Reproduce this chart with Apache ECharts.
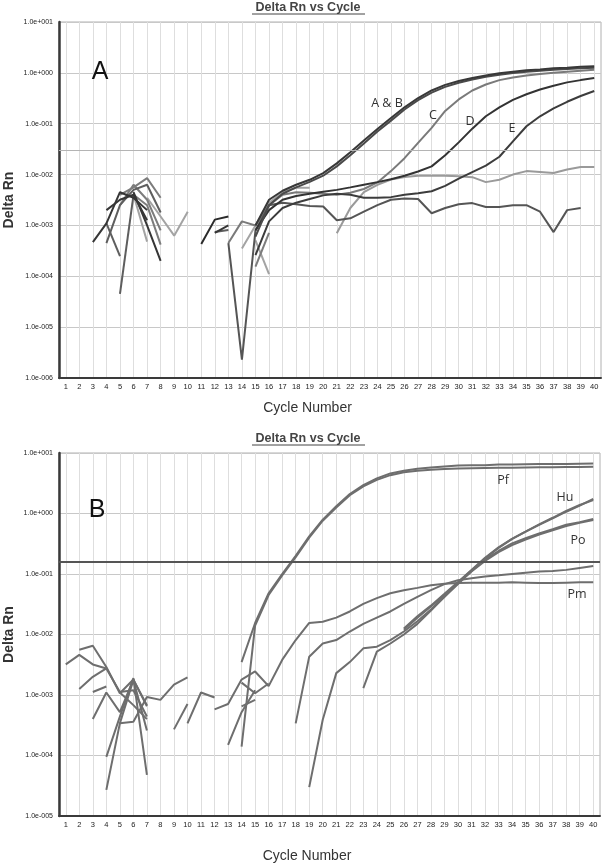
<!DOCTYPE html>
<html>
<head>
<meta charset="utf-8">
<script src="https://cdn.jsdelivr.net/npm/echarts@6/dist/echarts.min.js"></script>
<style>
html,body{margin:0;padding:0;background:#fff;}
#chart{width:608px;height:865px;}
</style>
</head>
<body>
<div id="chart"></div>
<script>
// ---- categories / tick labels ----
const cycles = ['1','2','3','4','5','6','7','8','9','10','11','12','13','14','15','16','17','18','19','20',
  '21','22','23','24','25','26','27','28','29','30','31','32','33','34','35','36','37','38','39','40'];
const yTicksA = [1e-6, 1e-5, 1e-4, 1e-3, 1e-2, 1e-1, 1, 10];
const yTicksB = [1e-5, 1e-4, 1e-3, 1e-2, 1e-1, 1, 10];
const thresholdA = 0.025;
const thresholdB = 0.164;

// ---- panel A series: [first cycle, values] ----
const curveAB1 = [15, [1.0e-3, 3.2e-3, 4.8e-3, 6.3e-3, 7.9e-3, 1.07e-2, 1.66e-2, 2.75e-2, 4.7e-2, 7.9e-2, 0.13, 0.21, 0.32, 0.45, 0.58, 0.69, 0.79, 0.89, 0.98, 1.05, 1.12, 1.17, 1.23, 1.26, 1.32, 1.35]];
const curveAB2 = [15, [6e-4, 2.5e-3, 4.2e-3, 5.6e-3, 7.2e-3, 9.5e-3, 1.45e-2, 2.4e-2, 4.1e-2, 7.0e-2, 0.115, 0.19, 0.29, 0.41, 0.53, 0.64, 0.74, 0.84, 0.92, 0.99, 1.05, 1.1, 1.15, 1.19, 1.23, 1.26]];
const curveC = [13, [4.5e-4, 1.2e-3, 1.0e-3, 2.5e-3, 4.0e-3, 4.5e-3, 4.4e-3, 4.2e-3, 4.0e-3, 4.4e-3, 5.2e-3, 7.0e-3, 1.17e-2, 2.1e-2, 4.2e-2, 8.3e-2, 0.178, 0.30, 0.45, 0.59, 0.72, 0.81, 0.89, 0.95, 1.0, 1.05, 1.1, 1.15]];
const curveD = [15, [8e-4, 2.0e-3, 3.2e-3, 3.8e-3, 4.2e-3, 4.6e-3, 5.0e-3, 5.6e-3, 6.3e-3, 7.1e-3, 8.1e-3, 9.5e-3, 1.15e-2, 1.45e-2, 2.4e-2, 4.3e-2, 8.0e-2, 0.14, 0.21, 0.295, 0.38, 0.47, 0.56, 0.65, 0.72, 0.79]];
const curveE = [15, [2.6e-4, 1.2e-3, 2.2e-3, 2.8e-3, 3.3e-3, 3.9e-3, 4.2e-3, 4.0e-3, 3.5e-3, 3.5e-3, 3.6e-3, 4.0e-3, 4.3e-3, 4.7e-3, 6.0e-3, 8.3e-3, 1.12e-2, 1.5e-2, 2.24e-2, 4.5e-2, 8.9e-2, 0.14, 0.2, 0.27, 0.35, 0.44]];
const flatLight = [21, [7e-4, 2.2e-3, 4.5e-3, 6.3e-3, 8.0e-3, 9.0e-3, 9.5e-3, 9.5e-3, 9.5e-3, 9.3e-3, 8.9e-3, 7.1e-3, 7.9e-3, 1.0e-2, 1.17e-2, 1.12e-2, 1.07e-2, 1.26e-2, 1.41e-2, 1.41e-2]];
const flatLightEarly = [14, [3.5e-4, 1.0e-3, 2.8e-3, 4.5e-3, 5.5e-3, 5.5e-3]];
const flatDark = [13, [4.5e-4, 2.3e-6, 8e-4, 2.5e-3, 2.8e-3, 2.6e-3, 2.4e-3, 2.35e-3, 1.26e-3, 1.38e-3, 1.86e-3, 2.5e-3, 3.2e-3, 3.4e-3, 3.3e-3, 1.74e-3, 2.2e-3, 2.6e-3, 2.75e-3, 2.3e-3, 2.3e-3, 2.5e-3, 2.5e-3, 1.86e-3, 7.4e-4, 2.0e-3, 2.2e-3]];
// early noisy fragments, panel A
const fragA1 = [3, [4.7e-4, 1.1e-3, 4.5e-3, 3.5e-3, 2.0e-3]];
const fragA2 = [4, [4.5e-4, 2.5e-3, 5.0e-3, 6.3e-3, 1.8e-3]];
const fragA3 = [4, [1.1e-3, 2.5e-4]];
const fragA4 = [5, [4.5e-5, 4.0e-3]];
const fragA5 = [5, [4.0e-3, 5.6e-3, 8.5e-3, 3.5e-3]];
const fragA6 = [6, [4.5e-3, 1.0e-3, 2.0e-4]];
const fragA7 = [6, [4.0e-3, 4.8e-4]];
const fragA8 = [6, [4.0e-3, 2.5e-3, 4.2e-4]];
const fragA9 = [7, [3.5e-3, 1.5e-3, 6.3e-4, 1.86e-3]];
const fragA10 = [4, [2.0e-3, 3.2e-3, 4.0e-3, 1.26e-3]];
const fragA11 = [5, [2.5e-3, 6.3e-3, 3.2e-3, 8.0e-4]];
const fragA12 = [11, [4.3e-4, 1.3e-3, 1.5e-3]];
const fragA13 = [12, [7.1e-4, 1.0e-3]];
const fragA14 = [12, [7.4e-4, 8.1e-4]];
const fragA15 = [15, [5.1e-4, 1.1e-4]];
const fragA16 = [15, [1.55e-4, 7.1e-4]];

// ---- panel B series ----
const pf1 = [14, [3.5e-3, 1.55e-2, 4.8e-2, 0.1, 0.2, 0.42, 0.79, 1.32, 2.1, 2.95, 3.8, 4.6, 5.1, 5.5, 5.75, 6.0, 6.2, 6.3, 6.3, 6.45, 6.45, 6.5, 6.55, 6.6, 6.6, 6.65, 6.7]];
const pf2 = [14, [1.4e-4, 1.4e-2, 4.5e-2, 9.5e-2, 0.19, 0.4, 0.76, 1.26, 2.0, 2.8, 3.6, 4.3, 4.8, 5.1, 5.3, 5.45, 5.55, 5.6, 5.65, 5.7, 5.7, 5.75, 5.8, 5.8, 5.85, 5.85, 5.9]];
const hu1 = [19, [3.0e-5, 3.9e-4, 2.3e-3, 3.5e-3, 5.9e-3, 6.3e-3, 8.1e-3, 1.12e-2, 1.66e-2, 2.6e-2, 4.2e-2, 6.8e-2, 0.112, 0.18, 0.27, 0.38, 0.5, 0.65, 0.83, 1.07, 1.35, 1.74]];
const hu2 = [26, [1.26e-2, 2.0e-2, 3.0e-2, 4.7e-2, 7.4e-2, 0.117, 0.186, 0.275, 0.38, 0.5, 0.66, 0.85, 1.1, 1.38, 1.66]];
const po1 = [23, [1.3e-3, 5.2e-3, 7.1e-3, 1.0e-2, 1.5e-2, 2.5e-2, 4.2e-2, 7.1e-2, 0.115, 0.174, 0.24, 0.32, 0.39, 0.47, 0.55, 0.65, 0.72, 0.81]];
const po2 = [26, [1.2e-2, 1.9e-2, 2.9e-2, 4.5e-2, 7.0e-2, 0.11, 0.165, 0.23, 0.3, 0.37, 0.45, 0.53, 0.62, 0.7, 0.78]];
const pmHigh = [18, [3.4e-4, 4.3e-3, 7.1e-3, 8.1e-3, 1.12e-2, 1.5e-2, 1.9e-2, 2.4e-2, 3.2e-2, 4.2e-2, 5.4e-2, 6.8e-2, 7.9e-2, 8.5e-2, 9.1e-2, 9.5e-2, 0.1, 0.105, 0.11, 0.112, 0.117, 0.126, 0.135]];
const pmLow = [12, [5.8e-4, 7.1e-4, 1.8e-3, 2.45e-3, 1.4e-3, 3.8e-3, 8.1e-3, 1.55e-2, 1.62e-2, 1.9e-2, 2.4e-2, 3.2e-2, 4.0e-2, 4.8e-2, 5.4e-2, 5.9e-2, 6.5e-2, 6.9e-2, 7.1e-2, 7.2e-2, 7.2e-2, 7.2e-2, 7.3e-2, 7.2e-2, 7.1e-2, 7.1e-2, 7.2e-2, 7.3e-2, 7.3e-2]];
// early noisy fragments, panel B
const nz1 = [1, [3.2e-3, 4.6e-3, 3.2e-3, 2.75e-3, 1.12e-3, 1.2e-3, 4.4e-4]];
const nz2 = [2, [5.6e-3, 6.5e-3, 2.9e-3, 1.07e-3, 1.8e-3, 6.5e-4]];
const nz3 = [2, [1.26e-3, 2.0e-3, 2.75e-3]];
const nz4 = [3, [1.12e-3, 1.38e-3]];
const nz5 = [3, [4.0e-4, 1.1e-3, 5.2e-4, 1.78e-3, 6.8e-4]];
const nz6 = [4, [9.5e-5, 4.4e-4, 1.9e-3, 4.8e-5]];
const nz7 = [4, [2.7e-5, 3.4e-4, 1.78e-3, 2.6e-4]];
const nz8 = [5, [3.4e-4, 3.6e-4, 9.3e-4, 8.3e-4, 1.48e-3, 1.95e-3]];
const nz9 = [5, [1.1e-3, 6.8e-4, 4.0e-4]];
const nz10 = [9, [2.7e-4, 7.1e-4]];
const nz11 = [10, [3.4e-4, 1.1e-3, 9.1e-4]];
const nz12 = [13, [1.5e-4, 5.2e-4, 1.2e-3]];
const nz13 = [14, [6.5e-4, 8.3e-4]];
const nz14 = [14, [1.6e-3, 1.07e-3, 1.55e-3]];

// ---------------------------------------------------------------
const FONT = '"Liberation Sans", Arial, sans-serif';
function expLabel(v) {
  const e = Math.round(Math.log10(v));
  return '1.0e' + (e < 0 ? '-' : '+') + String(Math.abs(e)).padStart(3, '0');
}
function toData(arr) {
  const start = arr[0], vals = arr[1];
  return cycles.map(function (c, i) {
    const k = i + 1 - start;
    return (k >= 0 && k < vals.length) ? vals[k] : null;
  });
}
function line(arr, color, idx, extra) {
  return Object.assign({
    type: 'line', xAxisIndex: idx, yAxisIndex: idx, data: toData(arr),
    symbol: 'none', showSymbol: false, silent: true, animation: false,
    lineStyle: { color: color, width: 2 }, itemStyle: { color: color }
  }, extra || {});
}
function xAxisCfg(idx, gap) {
  return {
    type: 'category', gridIndex: idx, data: cycles, boundaryGap: true,
    axisLine: { show: true, onZero: false, lineStyle: { color: '#3a3a3a', width: 2 } },
    axisTick: { show: false, alignWithLabel: true },
    axisLabel: { interval: 0, fontSize: 7.5, color: '#222', margin: 5, fontFamily: FONT },
    splitLine: { show: true, interval: 0, alignWithLabel: true, lineStyle: { color: '#dedede', width: 1 } },
    name: 'Cycle Number', nameLocation: 'middle', nameGap: gap, nameMoveOverlap: false,
    nameTextStyle: { fontSize: 14, color: '#333', fontFamily: FONT, padding: [0, 45, 0, 0] }
  };
}
function yAxisCfg(idx, ticks) {
  return {
    type: 'log', gridIndex: idx, logBase: 10, min: ticks[0], max: ticks[ticks.length - 1], interval: 1,
    axisLine: { show: true, lineStyle: { color: '#3a3a3a', width: 2.5 } },
    axisTick: { show: false },
    axisLabel: { fontSize: 7, color: '#222', margin: 6, fontFamily: FONT, formatter: expLabel },
    splitLine: { show: true, lineStyle: { color: '#c8c8c8', width: 1.2 } },
    name: 'Delta Rn', nameLocation: 'middle', nameGap: 43, nameRotate: 90, nameMoveOverlap: false,
    nameTextStyle: { fontSize: 14, fontWeight: 'bold', color: '#333', fontFamily: FONT }
  };
}

const DK = '#363636', MD = '#5e5e5e', GR = '#7c7c7c', LT = '#a3a3a3', BC = '#6e6e6e';

const seriesA = [
  line(fragA7, LT, 0), line(fragA9, LT, 0), line(fragA15, LT, 0), line(flatLightEarly, LT, 0),
  line(flatLight, '#9a9a9a', 0, {
    markLine: { silent: true, symbol: 'none', label: { show: false }, animation: false,
      lineStyle: { color: '#b4b4b4', width: 1.2, type: 'solid' }, data: [{ yAxis: thresholdA }] }
  }),
  line(fragA5, GR, 0), line(fragA8, GR, 0), line(fragA11, GR, 0), line(fragA16, GR, 0), line(fragA14, MD, 0),
  line(fragA2, MD, 0), line(fragA3, MD, 0), line(fragA4, MD, 0),
  line(curveC, '#7a7a7a', 0),
  line(flatDark, '#555555', 0),
  line(fragA1, DK, 0), line(fragA6, DK, 0), line(fragA10, DK, 0), line(fragA12, '#2a2a2a', 0), line(fragA13, DK, 0),
  line(curveE, '#3c3c3c', 0), line(curveD, '#333333', 0),
  line(curveAB2, '#4a4a4a', 0), line(curveAB1, '#383838', 0)
];
const seriesB = [nz1, nz2, nz3, nz4, nz5, nz6, nz7, nz8, nz9, nz10, nz11, nz12, nz13, nz14,
  pf1, pf2, hu1, hu2, po1, po2, pmHigh].map(function (a) { return line(a, BC, 1); });
seriesB.push(line(pmLow, BC, 1, {
  markLine: { silent: true, symbol: 'none', label: { show: false }, animation: false,
    lineStyle: { color: '#555555', width: 2, type: 'solid' }, data: [{ yAxis: thresholdB }] }
}));

function txt(x, y, s, font, fill) {
  return { type: 'text', x: x, y: y, silent: true, z: 100,
    style: { text: s, align: 'center', verticalAlign: 'middle', font: font, fill: fill || '#222' } };
}
function uline(x1, x2, y) {
  return { type: 'line', silent: true, z: 100, shape: { x1: x1, y1: y, x2: x2, y2: y }, style: { stroke: '#444', lineWidth: 1 } };
}
const TITLE = 'bold 12.5px ' + FONT;
const LBL = '12.5px "Open Sans", ' + FONT;
const graphic = [
  txt(308, 8, 'Delta Rn vs Cycle', TITLE, '#444'), uline(252, 365, 14),
  txt(308, 439, 'Delta Rn vs Cycle', TITLE, '#444'), uline(252, 365, 445),
  txt(100, 72, 'A', '25px ' + FONT, '#111'),
  txt(97, 510, 'B', '25px ' + FONT, '#111'),
  txt(387, 103, 'A & B', LBL, '#333'),
  txt(433, 115, 'C', LBL, '#333'),
  txt(470, 121, 'D', LBL, '#333'),
  txt(512, 128, 'E', LBL, '#333'),
  txt(503, 480, 'Pf', LBL, '#333'),
  txt(565, 497, 'Hu', LBL, '#333'),
  txt(578, 540, 'Po', LBL, '#333'),
  txt(577, 594, 'Pm', LBL, '#333')
];

const chart = echarts.init(document.getElementById('chart'), null, { renderer: 'canvas' });
chart.setOption({
  backgroundColor: '#ffffff',
  animation: false,
  textStyle: { fontFamily: FONT },
  grid: [
    { left: 59, top: 22, width: 542, height: 356, show: true, borderColor: '#b0b0b0', borderWidth: 1, containLabel: false, outerBoundsMode: 'none' },
    { left: 59, top: 453, width: 541, height: 363, show: true, borderColor: '#b0b0b0', borderWidth: 1, containLabel: false, outerBoundsMode: 'none' }
  ],
  xAxis: [xAxisCfg(0, 23), xAxisCfg(1, 33)],
  yAxis: [yAxisCfg(0, yTicksA), yAxisCfg(1, yTicksB)],
  series: seriesA.concat(seriesB),
  graphic: graphic
});
</script>
</body>
</html>
